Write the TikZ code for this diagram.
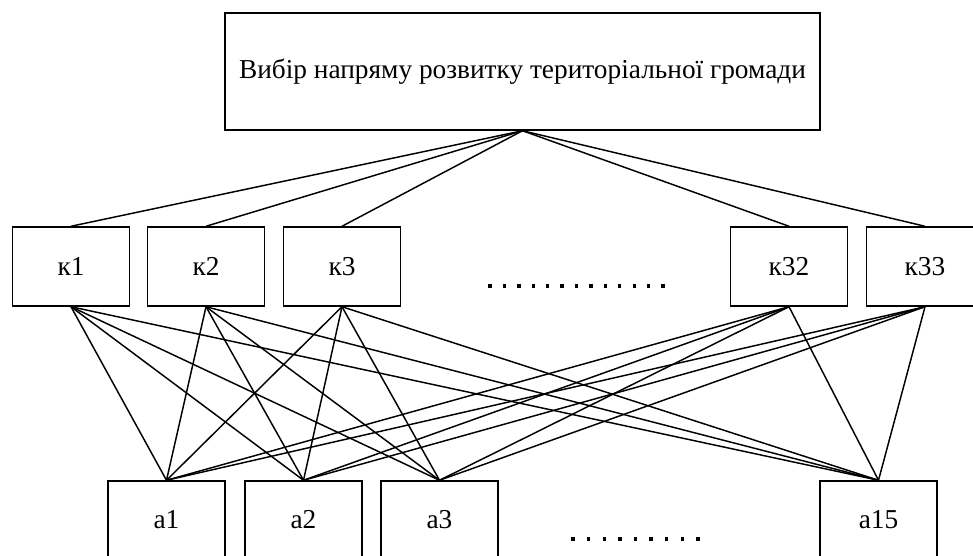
\documentclass[tikz,border=0pt]{standalone}
\usepackage{fontspec}
\setmainfont{Liberation Serif}
\begin{document}
\begin{tikzpicture}[x=0.75pt,y=-0.75pt,
  box/.style={draw,line width=1.1pt,rectangle,inner sep=0pt,font=\fontsize{20.5}{24}\selectfont},
  kbox/.style={box,minimum width=87.75pt,minimum height=59.25pt},
  abox/.style={box,minimum width=87.75pt,minimum height=58.5pt},
  link/.style={line width=1.1pt},
  dotmark/.style={fill=black}]
\useasboundingbox (0,0) rectangle (973,556);
\clip (0,0) rectangle (973,556);
\node[box,minimum width=446.25pt,minimum height=87.75pt] (top) at (522.5,71.5) {Вибір напряму розвитку територіальної громади};
\node[kbox] (k1) at (71,266.5) {к1};
\node[kbox] (k2) at (206,266.5) {к2};
\node[kbox] (k3) at (342,266.5) {к3};
\node[kbox] (k32) at (789,266.5) {к32};
\node[kbox] (k33) at (925,266.5) {к33};
\node[abox] (a1) at (166.5,520) {а1};
\node[abox] (a2) at (303.5,520) {а2};
\node[abox] (a3) at (439.5,520) {а3};
\node[abox] (a15) at (878.5,520) {а15};
\foreach \k in {k1,k2,k3,k32,k33}{
  \draw[link] (top.south) -- (\k.north);
  \foreach \a in {a1,a2,a3,a15}{
    \draw[link] (\k.south) -- (\a.north);
  }
}
\foreach \i in {0,...,12}{
  \fill[dotmark] ({490+\i*14.42-1.7},284.3) rectangle ++(3.4,3.4);
}
\foreach \i in {0,...,8}{
  \fill[dotmark] ({573+\i*15.6-1.7},537.3) rectangle ++(3.4,3.4);
}
\end{tikzpicture}
\end{document}
